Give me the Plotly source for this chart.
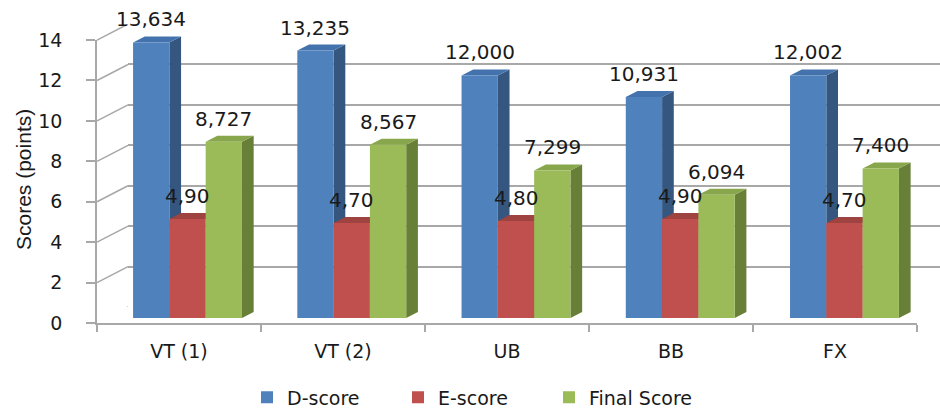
import plotly.graph_objects as go

# ---------------- data ----------------
categories = ["VT (1)", "VT (2)", "UB", "BB", "FX"]
series_names = ["D-score", "E-score", "Final Score"]
d_score = [13.634, 13.235, 12.000, 10.931, 12.002]
e_score = [4.90, 4.70, 4.80, 4.90, 4.70]
final_score = [8.727, 8.567, 7.299, 6.094, 7.400]
d_labels = ["13,634", "13,235", "12,000", "10,931", "12,002"]
e_labels = ["4,90", "4,70", "4,80", "4,90", "4,70"]
final_labels = ["8,727", "8,567", "7,299", "6,094", "7,400"]
y_ticks = [0, 2, 4, 6, 8, 10, 12, 14]
y_title = "Scores (points)"

# ---------------- styling / geometry (pixels) ----------------
W, H = 940, 413
FRONT_X = 97          # front y-axis x position
FRONT_RIGHT = 917     # front right edge of floor
Y0_FRONT = 323        # front zero line
BACK_DX, BACK_DY = 31, 16
PX_UNIT = 20.21       # pixels per score unit
Y0_BAR = 318          # bar base
BAR_LEFT, BAR_RIGHT = 105.4, 926.6
DEPTH_DX, DEPTH_DY = 11.7, 6.0
YMAX = 14
CAT_PX = (BAR_RIGHT - BAR_LEFT) / len(categories)
BAR_W = 36.3 / CAT_PX
DX_U = DEPTH_DX / CAT_PX
DY_U = DEPTH_DY / PX_UNIT

front_col = ["#4F81BD", "#C0504D", "#9BBB59"]
top_col = ["#4472AD", "#9E4340", "#88A64B"]
side_col = ["#35577F", "#8A3735", "#687F37"]
grid_col = "#A8A8A8"
txt_col = "#1a1a1a"
FONT = "DejaVu Sans"


def fx(x):
    return x / W


def fy(y):
    return (H - y) / H


values = [d_score, e_score, final_score]
labels = [d_labels, e_labels, final_labels]

fig = go.Figure()

# back wall subplot (grid only)
fig.add_trace(go.Scatter(x=[0.5], y=[0], mode="markers", marker=dict(opacity=0),
                         hoverinfo="skip", showlegend=False, xaxis="x", yaxis="y"))

# 3D faces (side + top) on x2/y2
for s, vals in enumerate(values):
    off = (s - 1) * BAR_W
    sx, sy, tx, ty = [], [], [], []
    for i, v in enumerate(vals):
        x0 = i + off - BAR_W / 2
        x1 = x0 + BAR_W
        sx += [x1, x1 + DX_U, x1 + DX_U, x1, x1, None]
        sy += [0, DY_U, v + DY_U, v, 0, None]
        tx += [x0, x1, x1 + DX_U, x0 + DX_U, x0, None]
        ty += [v, v, v + DY_U, v + DY_U, v, None]
    fig.add_trace(go.Scatter(x=sx, y=sy, fill="toself", fillcolor=side_col[s], mode="lines",
                             line=dict(width=0, color=side_col[s]), hoverinfo="skip",
                             showlegend=False, xaxis="x2", yaxis="y2"))
    fig.add_trace(go.Scatter(x=tx, y=ty, fill="toself", fillcolor=top_col[s], mode="lines",
                             line=dict(width=0, color=top_col[s]), hoverinfo="skip",
                             showlegend=False, xaxis="x2", yaxis="y2"))

# front faces: real bars on x3/y3 (overlaying x2/y2)
for s, vals in enumerate(values):
    fig.add_trace(go.Bar(x=list(range(len(categories))), y=vals, name=series_names[s],
                         marker=dict(color=front_col[s], line=dict(width=0)),
                         xaxis="x3", yaxis="y3", hoverinfo="skip"))

# front axes helper trace
fig.add_trace(go.Scatter(x=categories, y=[0] * len(categories), mode="markers",
                         marker=dict(opacity=0), hoverinfo="skip", showlegend=False,
                         xaxis="x5", yaxis="y4"))

# data labels
annotations = []
for s, vals in enumerate(values):
    off = (s - 1) * BAR_W
    for i, v in enumerate(vals):
        annotations.append(dict(x=i + off, y=v, xref="x3", yref="y3", text=labels[s][i],
                                showarrow=False, yshift=23, yanchor="middle", xanchor="center",
                                font=dict(family=FONT, size=20, color=txt_col)))
annotations.append(dict(x=fx(23), y=fy(180), xref="paper", yref="paper", text=y_title,
                        textangle=-90, showarrow=False, xanchor="center", yanchor="middle",
                        font=dict(family="Liberation Sans", size=21, color=txt_col)))

# slanted connectors from front axis to back wall
back_off = BACK_DY / PX_UNIT
shapes = []
for v in y_ticks:
    shapes.append(dict(type="line", xref="paper", yref="y", x0=fx(FRONT_X), x1=fx(FRONT_X + BACK_DX),
                       y0=v - back_off, y1=v, line=dict(color=grid_col, width=1.5)))
shapes.append(dict(type="line", xref="paper", yref="y", x0=fx(FRONT_RIGHT), x1=fx(FRONT_RIGHT + BACK_DX),
                   y0=-back_off, y1=0, line=dict(color=grid_col, width=1.5)))

fig.update_layout(
    width=W, height=H, margin=dict(l=0, r=0, t=0, b=0, pad=0, autoexpand=False),
    paper_bgcolor="white", plot_bgcolor="rgba(0,0,0,0)",
    barmode="group", bargap=1 - 3 * BAR_W, bargroupgap=0,
    hovermode=False,
    xaxis=dict(domain=[fx(FRONT_X + BACK_DX), 1], range=[0, 1], visible=False),
    yaxis=dict(domain=[fy(Y0_FRONT - BACK_DY), fy(Y0_FRONT - BACK_DY - YMAX * PX_UNIT)],
               range=[0, YMAX], tickvals=y_ticks, showticklabels=False, ticks="",
               showgrid=True, gridcolor=grid_col, gridwidth=1.5, zeroline=False, showline=False),
    xaxis2=dict(domain=[fx(BAR_LEFT), fx(BAR_RIGHT)], range=[-0.5, len(categories) - 0.5],
                anchor="y2", visible=False),
    yaxis2=dict(domain=[fy(Y0_BAR), fy(Y0_BAR - YMAX * PX_UNIT)], range=[0, YMAX],
                anchor="x2", visible=False),
    xaxis3=dict(overlaying="x2", anchor="y3", range=[-0.5, len(categories) - 0.5], visible=False),
    yaxis3=dict(overlaying="y2", anchor="x3", range=[0, YMAX], visible=False),
    xaxis5=dict(domain=[fx(FRONT_X), fx(FRONT_RIGHT)], anchor="y4", type="category",
                range=[-0.5, len(categories) - 0.5], tickson="boundaries", ticks="outside",
                ticklen=7, tickwidth=1.5, tickcolor=grid_col, showline=True, linecolor=grid_col,
                linewidth=1.5, showgrid=False, zeroline=False, ticklabelstandoff=10,
                automargin=False,
                tickfont=dict(family=FONT, size=19, color=txt_col)),
    yaxis4=dict(domain=[fy(Y0_FRONT), fy(Y0_FRONT - YMAX * PX_UNIT)], anchor="x5",
                range=[0, YMAX], tickvals=y_ticks, ticks="outside", ticklen=9, tickwidth=1.5,
                tickcolor=grid_col, showline=True, linecolor=grid_col, linewidth=1.5,
                showgrid=False, zeroline=False, ticklabelstandoff=20, automargin=False,
                tickfont=dict(family=FONT, size=19, color=txt_col)),
    legend=dict(orientation="h", x=fx(247), y=-0.008, xanchor="left", yanchor="bottom",
                entrywidth=106, font=dict(family=FONT, size=19, color=txt_col),
                bgcolor="rgba(0,0,0,0)"),
    annotations=annotations,
    shapes=shapes,
)

fig.write_html("out.html", config={"displayModeBar": False},
               post_script="document.body.style.margin='0';document.body.style.overflow='hidden';")
